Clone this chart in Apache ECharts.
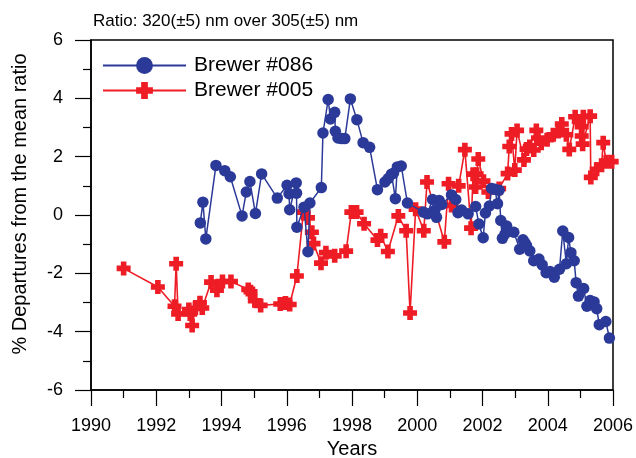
<!DOCTYPE html>
<html>
<head>
<meta charset="utf-8">
<script src="https://cdn.jsdelivr.net/npm/echarts@6/dist/echarts.min.js"></script>
<style>html,body{margin:0;padding:0;background:#fff}#c{width:636px;height:458px}</style>
</head>
<body>
<div id="c"></div>
<script>
var titleText = 'Ratio: 320(\u00b15) nm over 305(\u00b15) nm';
var xName = 'Years';
var yName = '% Departures from the mean ratio';
var xTicks = [1990, 2006, 2];
var yTicks = [-6, 6, 2];
var nameBlue = 'Brewer #086';
var nameRed = 'Brewer #005';

var brewer086 = [
[1993.35,-0.27],[1993.43,0.44],[1993.52,-0.82],[1993.83,1.70],[1994.10,1.52],[1994.27,1.31],[1994.63,-0.03],[1994.76,0.79],[1994.87,1.15],[1995.04,0.05],[1995.23,1.41],[1995.71,0.58],[1996.01,1.02],[1996.07,0.73],[1996.09,0.18],[1996.29,1.10],[1996.30,0.75],[1996.31,-0.42],[1996.53,0.27],[1996.65,-1.26],[1996.71,0.41],[1997.06,0.94],[1997.11,2.81],[1997.27,3.96],[1997.34,3.29],[1997.47,3.52],[1997.49,2.87],[1997.57,2.64],[1997.68,2.62],[1997.78,2.62],[1997.95,3.98],[1998.15,3.27],[1998.34,2.48],[1998.54,2.32],[1998.78,0.87],[1999.01,1.13],[1999.11,1.25],[1999.21,1.40],[1999.27,1.43],[1999.33,0.56],[1999.39,1.65],[1999.51,1.68],[1999.70,0.41],[2000.19,0.10],[2000.31,0.04],[2000.47,0.53],[2000.54,0.16],[2000.59,-0.08],[2000.67,0.50],[2000.75,0.36],[2001.05,0.69],[2001.18,0.53],[2001.25,0.08],[2001.36,0.17],[2001.56,0.04],[2001.79,0.29],[2001.89,-0.31],[2002.02,-0.78],[2002.09,0.07],[2002.21,0.31],[2002.28,0.91],[2002.38,0.88],[2002.46,0.39],[2002.51,0.85],[2002.56,-0.19],[2002.61,-0.80],[2002.69,-0.65],[2002.74,-0.38],[2002.96,-0.59],[2003.14,-1.17],[2003.24,-0.85],[2003.30,-0.95],[2003.35,-1.05],[2003.45,-1.23],[2003.57,-1.57],[2003.73,-1.51],[2003.83,-1.71],[2003.95,-1.98],[2004.07,-1.94],[2004.20,-2.13],[2004.36,-1.86],[2004.46,-0.55],[2004.57,-1.67],[2004.64,-0.77],[2004.71,-1.29],[2004.81,-1.57],[2004.87,-2.32],[2004.94,-2.78],[2005.10,-2.52],[2005.20,-3.13],[2005.30,-2.93],[2005.42,-2.98],[2005.50,-3.21],[2005.58,-3.76],[2005.78,-3.65],[2005.89,-4.22]
];

var brewer005 = [
[1991.00,-1.83],[1992.05,-2.47],[1992.56,-3.13],[1992.61,-1.67],[1992.67,-3.39],[1993.00,-3.24],[1993.04,-3.39],[1993.10,-3.79],[1993.20,-3.20],[1993.34,-3.01],[1993.41,-3.19],[1993.68,-2.30],[1993.86,-2.58],[1994.03,-2.28],[1994.29,-2.28],[1994.82,-2.55],[1994.89,-2.63],[1995.02,-2.94],[1995.20,-3.10],[1995.80,-3.05],[1995.96,-3.02],[1996.09,-3.07],[1996.31,-2.09],[1996.51,0.10],[1996.65,-0.10],[1996.77,-0.59],[1996.82,-0.98],[1997.05,-1.65],[1997.20,-1.29],[1997.47,-1.40],[1997.82,-1.24],[1997.98,0.10],[1998.14,0.10],[1998.37,-0.30],[1998.78,-0.86],[1998.88,-0.71],[1999.10,-1.25],[1999.42,-0.03],[1999.66,-0.54],[1999.78,-3.36],[1999.95,0.20],[2000.20,-0.54],[2000.30,1.13],[2000.83,-0.92],[2000.96,1.07],[2001.05,0.33],[2001.27,1.00],[2001.46,2.24],[2001.65,-0.45],[2001.71,1.40],[2001.79,0.96],[2001.82,1.40],[2001.87,1.92],[2002.03,1.16],[2002.18,0.79],[2002.51,0.91],[2002.77,1.42],[2002.82,2.35],[2002.89,2.78],[2002.99,1.54],[2003.06,2.90],[2003.27,1.89],[2003.35,2.26],[2003.45,2.35],[2003.57,2.23],[2003.65,2.90],[2003.70,2.64],[2003.80,2.46],[2003.98,2.58],[2004.17,2.75],[2004.32,2.86],[2004.43,3.12],[2004.57,2.75],[2004.66,2.25],[2004.84,3.37],[2004.95,3.21],[2005.04,2.71],[2005.04,3.03],[2005.09,3.37],[2005.07,2.43],[2005.30,3.39],[2005.32,1.29],[2005.50,1.57],[2005.65,1.71],[2005.70,2.48],[2005.79,1.83],[2005.96,1.83]
];

var FONT = 'Liberation Sans, Arial, sans-serif';
var BLUE = '#2b3a98';
var RED = '#ee1c25';
var PLUS = 'path://M3,0h4v3h3v4h-3v3h-4v-3h-3v-4h3z';

var chart = echarts.init(document.getElementById('c'), null, {renderer: 'canvas'});
chart.setOption({
  animation: false,
  backgroundColor: '#fff',
  textStyle: {fontFamily: FONT},
  title: {
    text: titleText, left: 88, top: 8,
    textStyle: {fontSize: 17, fontWeight: 'normal', color: '#000', fontFamily: FONT}
  },
  legend: {
    orient: 'vertical', left: 97, top: 50,
    itemWidth: 83, itemHeight: 21, itemGap: 4,
    data: [nameBlue, nameRed],
    textStyle: {fontSize: 21, color: '#000', fontFamily: FONT, padding: [0, 0, 0, 3]}
  },
  graphic: [{
    type: 'text', x: 20, y: 204, rotation: Math.PI / 2,
    style: {text: yName, fontSize: 20, fontFamily: FONT, fill: '#000', align: 'center', verticalAlign: 'middle'}
  }],
  grid: {left: 91, right: 23, top: 40, bottom: 68, outerBoundsMode: 'none', containLabel: false, show: true, borderColor: '#000', borderWidth: 1.5, backgroundColor: 'transparent'},
  xAxis: {
    type: 'value', min: xTicks[0], max: xTicks[1], interval: xTicks[2],
    name: xName, nameLocation: 'middle', nameGap: 46,
    nameTextStyle: {fontSize: 20, color: '#000', fontFamily: FONT},
    axisLine: {show: true, onZero: false, lineStyle: {color: '#000', width: 1.5}},
    axisTick: {show: true, length: 16, lineStyle: {color: '#000', width: 1.2}},
    minorTick: {show: true, splitNumber: 2, length: 8, lineStyle: {color: '#000', width: 1.2}},
    axisLabel: {fontSize: 18, color: '#000', margin: 27, fontFamily: FONT, formatter: function (v) { return String(v); }},
    splitLine: {show: false}
  },
  yAxis: {
    type: 'value', min: yTicks[0], max: yTicks[1], interval: yTicks[2],
    axisLine: {show: true, onZero: false, lineStyle: {color: '#000', width: 1.5}},
    axisTick: {show: true, length: 16, lineStyle: {color: '#000', width: 1.2}},
    minorTick: {show: true, splitNumber: 2, length: 8, lineStyle: {color: '#000', width: 1.2}},
    axisLabel: {fontSize: 18, color: '#000', margin: 28, fontFamily: FONT},
    splitLine: {show: false}
  },
  series: [
    {
      name: nameRed, type: 'line', data: brewer005,
      symbol: PLUS, symbolSize: 14, showAllSymbol: true,
      lineStyle: {color: RED, width: 1.6},
      itemStyle: {color: RED},
      z: 2
    },
    {
      name: nameBlue, type: 'line', data: brewer086,
      symbol: 'circle', symbolSize: 11.5, showAllSymbol: true,
      lineStyle: {color: BLUE, width: 1.5},
      itemStyle: {color: BLUE},
      z: 3
    }
  ]
});
</script>
</body>
</html>
